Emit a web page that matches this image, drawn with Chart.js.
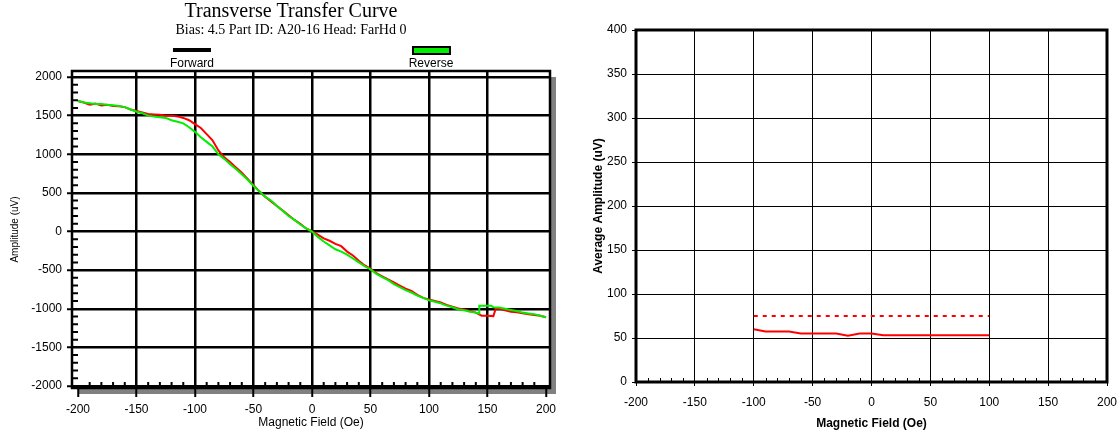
<!DOCTYPE html>
<html>
<head>
<meta charset="utf-8">
<script src="https://cdn.jsdelivr.net/npm/chart.js@4.4.1/dist/chart.umd.min.js"></script>
<style>
html, body { margin:0; padding:0; background:#fff; overflow:hidden; width:1117px; height:431px; }
#left { position:absolute; left:0; top:0; }
#right { position:absolute; left:580px; top:0; }
</style>
</head>
<body>
<canvas id="left" width="570" height="431"></canvas>
<canvas id="right" width="560" height="431"></canvas>
<script>
// TRANSFER CURVE DATA
var title_text = 'Transverse Transfer Curve'
var subtitle_text = 'Bias: 4.5 Part ID: A20-16 Head: FarHd 0'
var legend_names = ['Forward', 'Reverse']

var fwd_x = [-200,-195,-190,-185,-180,-175,-170,-165,-160,-155,-150,-145,-140,-135,-130,-125,-120,-115,-110,-105,-100,-95,-90,-85,-80,-75,-70,-65,-60,-55,-50,-45,-40,-35,-30,-25,-20,-15,-10,-5,0,5,10,15,20,25,30,35,40,45,50,55,60,65,70,75,80,85,90,95,100,105,110,115,120,125,130,135,140,145,150,155,157,160,165,170,175,180,185,190,195,200]
var fwd_y = [1690,1670,1640,1655,1630,1640,1625,1620,1610,1580,1560,1540,1520,1515,1510,1500,1500,1490,1470,1440,1390,1340,1260,1180,1050,960,900,830,760,680,600,520,450,390,330,270,210,150,100,40,0,-40,-90,-120,-160,-190,-260,-310,-380,-440,-480,-540,-580,-620,-660,-700,-740,-770,-820,-860,-880,-900,-920,-950,-975,-995,-1010,-1030,-1050,-1090,-1090,-1095,-1000,-1000,-1020,-1040,-1045,-1060,-1070,-1080,-1090,-1110]

var rev_x = [-200,-195,-190,-185,-180,-175,-170,-165,-160,-155,-150,-145,-140,-135,-130,-125,-120,-115,-110,-105,-100,-95,-90,-85,-80,-75,-70,-65,-60,-55,-50,-45,-40,-35,-30,-25,-20,-15,-10,-5,0,5,10,15,20,25,30,35,40,45,50,55,60,65,70,75,80,85,90,95,100,105,110,115,120,125,130,135,140,143,143,150,153,155,160,165,170,175,180,185,190,195,200]
var rev_y = [1690,1670,1660,1650,1650,1640,1635,1625,1610,1580,1550,1530,1500,1490,1480,1470,1440,1420,1400,1350,1290,1220,1160,1100,1000,940,870,810,740,670,590,520,450,400,330,270,200,150,90,40,0,-70,-130,-180,-230,-260,-300,-350,-400,-450,-490,-550,-590,-630,-680,-720,-760,-790,-830,-860,-890,-910,-930,-960,-980,-1010,-1020,-1040,-1050,-1060,-960,-960,-960,-980,-985,-1000,-1015,-1030,-1050,-1060,-1070,-1090,-1110]

var field_ticks = [-200,-150,-100,-50,0,50,100,150,200]
var amp_ticks = [-2000,-1500,-1000,-500,0,500,1000,1500,2000]

// AVERAGE AMPLITUDE DATA
var avg_x = [-100,-90,-80,-70,-60,-50,-40,-30,-20,-10,0,10,20,30,40,50,60,70,80,90,100]
var avg_y = [60,57.5,57.5,57.5,55,55,55,55,52.5,55,55,53,53,53,53,53,53,53,53,53,53]
var limit_x = [-100,100]
var limit_y = [75,75]
var avg_field_ticks = [-200,-150,-100,-50,0,50,100,150,200]
var avg_amp_ticks = [0,50,100,150,200,250,300,350,400]

Chart.defaults.font.family = "'Liberation Sans', Arial, sans-serif"
Chart.defaults.color = '#000'
Chart.defaults.animation = false

function pts(xs, ys) {
  var out = []
  for (let i in xs) out.push({x: xs[i], y: ys[i]})
  return out
}
function fmt(v) { return String(v) }

//LEFT CHART decorations: shadow, minor ticks, frame, title, legend
var leftDecor = {
  id: 'leftDecor',
  beforeDraw: function(chart) {
    var ctx = chart.ctx, a = chart.chartArea
    ctx.save()
    ctx.fillStyle = '#808080'
    ctx.fillRect(a.left + 6, a.top + 6, a.right - a.left, a.bottom - a.top)
    ctx.fillStyle = '#fff'
    ctx.fillRect(a.left, a.top, a.right - a.left, a.bottom - a.top)
    ctx.restore()
  },
  afterDatasetsDraw: function(chart) {
    var ctx = chart.ctx, a = chart.chartArea
    var xs = chart.scales.x, ys = chart.scales.y
    ctx.save()
    ctx.strokeStyle = '#000'
    ctx.lineWidth = 2
    ctx.beginPath()
    for (let v = -1900; v < 2000; v += 100) {
      if (v % 500 === 0) continue
      var py = ys.getPixelForValue(v)
      ctx.moveTo(a.left, py); ctx.lineTo(a.left + 6, py)
    }
    for (let v = -190; v < 200; v += 10) {
      if (v % 50 === 0) continue
      var px = xs.getPixelForValue(v)
      ctx.moveTo(px, a.bottom); ctx.lineTo(px, a.bottom - 6)
    }
    ctx.stroke()
    ctx.lineWidth = 2.5
    ctx.strokeRect(a.left, a.top, a.right - a.left, a.bottom - a.top)

    // title
    ctx.fillStyle = '#000'
    ctx.textAlign = 'center'
    ctx.textBaseline = 'middle'
    ctx.font = "20px 'Liberation Serif', 'Times New Roman', serif"
    ctx.fillText(title_text, 291, 12)
    ctx.font = "14px 'Liberation Serif', 'Times New Roman', serif"
    ctx.fillText(subtitle_text, 291, 30)

    // legend
    var w = a.right - a.left
    var cx = [a.left + w * 0.251, a.left + w * 0.751]
    ctx.lineWidth = 4
    ctx.beginPath()
    ctx.moveTo(cx[0] - 19, 50); ctx.lineTo(cx[0] + 19, 50)
    ctx.stroke()
    ctx.fillStyle = '#00ee00'
    ctx.fillRect(cx[1] - 18, 47, 37, 7)
    ctx.lineWidth = 2
    ctx.strokeRect(cx[1] - 18, 47, 37, 7)
    ctx.fillStyle = '#000'
    ctx.font = "12px 'Liberation Sans', Arial, sans-serif"
    ctx.fillText(legend_names[0], cx[0], 64)
    ctx.fillText(legend_names[1], cx[1], 64)
    ctx.restore()
  }
}

new Chart(document.getElementById('left'), {
  type: 'line',
  data: {
    datasets: [{
      label: legend_names[0],
      data: pts(fwd_x, fwd_y),
      borderColor: '#ff0000',
      borderWidth: 2,
      pointRadius: 0,
      order: 1
    }, {
      label: legend_names[1],
      data: pts(rev_x, rev_y),
      borderColor: '#00ee00',
      borderWidth: 2,
      pointRadius: 0,
      order: 0
    }]
  },
  options: {
    responsive: false,
    devicePixelRatio: 1,
    layout: { padding: { top: 71, right: 20, bottom: 0, left: 0 } },
    plugins: { legend: { display: false }, tooltip: { enabled: false } },
    scales: {
      x: {
        type: 'linear', min: -205.1, max: 203.4,
        afterBuildTicks: function(s) { s.ticks = field_ticks.map(v => ({value: v})) },
        afterFit: function(s) { s.height = 43 },
        grid: {
          color: ctx => (ctx.tick && Math.abs(ctx.tick.value) === 200) ? 'rgba(0,0,0,0)' : '#000',
          tickColor: '#000', lineWidth: 2.5, tickLength: 9, tickWidth: 2
        },
        border: { display: false },
        ticks: { font: { size: 12 }, padding: 5, maxRotation: 0, autoSkip: false, callback: fmt },
        title: { display: true, text: 'Magnetic Field (Oe)', font: { size: 12 }, padding: { top: 0, bottom: 1 } }
      },
      y: {
        type: 'linear', min: -2025.9, max: 2077.7,
        afterBuildTicks: function(s) { s.ticks = amp_ticks.map(v => ({value: v})) },
        afterFit: function(s) { s.width = 72 },
        grid: { color: '#000', lineWidth: 2.5, tickLength: 5, tickWidth: 2 },
        border: { display: false },
        ticks: { font: { size: 12 }, padding: 5, autoSkip: false, callback: fmt },
        title: { display: true, text: 'Amplitude (uV)', font: { size: 10 }, padding: { top: 9, bottom: 0 } }
      }
    }
  },
  plugins: [leftDecor]
})

//RIGHT CHART decorations: minor ticks and thick frame
var rightDecor = {
  id: 'rightDecor',
  afterDatasetsDraw: function(chart) {
    var ctx = chart.ctx, a = chart.chartArea
    var xs = chart.scales.x
    ctx.save()
    ctx.strokeStyle = '#000'
    ctx.lineWidth = 1
    ctx.beginPath()
    for (let v = -190; v < 200; v += 10) {
      if (v % 50 === 0) continue
      var px = Math.round(xs.getPixelForValue(v)) + 0.5
      ctx.moveTo(px, a.bottom - 1); ctx.lineTo(px, a.bottom - 4)
    }
    ctx.stroke()
    ctx.lineWidth = 3
    ctx.strokeRect(a.left, a.top, a.right - a.left, a.bottom - a.top)
    ctx.restore()
  }
}

new Chart(document.getElementById('right'), {
  type: 'line',
  data: {
    datasets: [{
      data: pts(avg_x, avg_y),
      borderColor: '#ff0000',
      borderWidth: 2,
      pointRadius: 0
    }, {
      data: pts(limit_x, limit_y),
      borderColor: '#ff0000',
      borderWidth: 2,
      borderDash: [4, 5],
      pointRadius: 0
    }]
  },
  options: {
    responsive: false,
    devicePixelRatio: 1,
    layout: { padding: { top: 30, right: 33, bottom: 0, left: 0 } },
    plugins: { legend: { display: false }, tooltip: { enabled: false } },
    scales: {
      x: {
        type: 'linear', min: -200, max: 200,
        afterBuildTicks: function(s) { s.ticks = avg_field_ticks.map(v => ({value: v})) },
        afterFit: function(s) { s.height = 49 },
        grid: { color: '#000', lineWidth: 1, tickLength: 4 },
        border: { display: false },
        ticks: { font: { size: 12 }, padding: 9, maxRotation: 0, autoSkip: false, callback: fmt },
        title: { display: true, text: 'Magnetic Field (Oe)', font: { size: 12, weight: 'bold' }, padding: { top: 0, bottom: 0 } }
      },
      y: {
        type: 'linear', min: 0, max: 400,
        afterBuildTicks: function(s) { s.ticks = avg_amp_ticks.map(v => ({value: v})) },
        afterFit: function(s) { s.width = 56 },
        grid: { color: '#000', lineWidth: 1, tickLength: 4 },
        border: { display: false },
        ticks: { font: { size: 12 }, padding: 5, autoSkip: false, callback: fmt },
        title: { display: true, text: 'Average Amplitude (uV)', font: { size: 12, weight: 'bold' }, padding: { top: 11, bottom: 0 } }
      }
    }
  },
  plugins: [rightDecor]
})
</script>
</body>
</html>
